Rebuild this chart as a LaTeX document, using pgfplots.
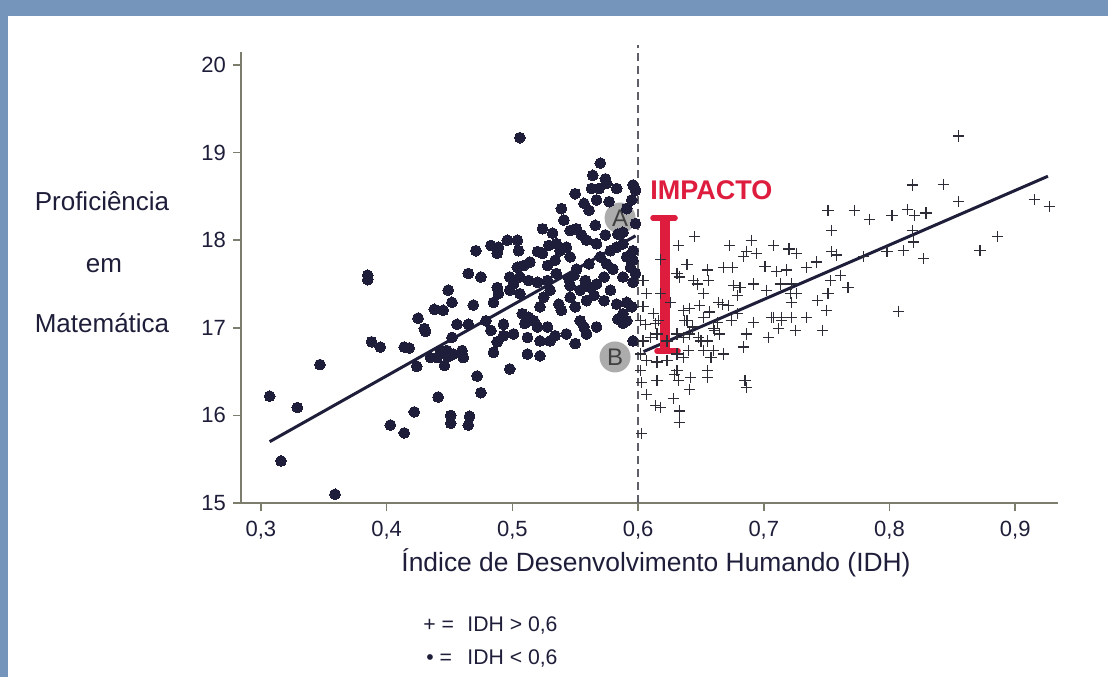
\documentclass[border=0pt]{standalone}
\usepackage{fontspec}
\setmainfont{Liberation Sans}
\usepackage{pgfplots}
\pgfplotsset{compat=1.18}
\definecolor{navy}{RGB}{30,30,58}
\definecolor{framec}{RGB}{117,150,186}
\definecolor{axisc}{RGB}{125,125,110}
\definecolor{impact}{RGB}{222,28,62}
\definecolor{crossc}{RGB}{45,45,55}
\definecolor{dashc}{RGB}{95,95,105}
\begin{document}
\begin{tikzpicture}
\useasboundingbox (0,0) rectangle (554pt,338.5pt);
\fill[white] (0,0) rectangle (554pt,338.5pt);
\fill[framec] (0,330.5pt) rectangle (554pt,338.5pt);
\fill[framec] (0,0) rectangle (4pt,338.5pt);
\begin{axis}[
  at={(120.5pt,87pt)}, anchor=south west,
  width=408.5pt, height=225.5pt, scale only axis,
  xmin=0.2842, xmax=0.934, ymin=15, ymax=20.148,
  axis x line*=bottom, axis y line*=left,
  axis line style={axisc, line width=0.8pt},
  tick style={axisc, line width=0.8pt},
  tick align=outside, major tick length=4pt,
  xtick={0.3,0.4,0.5,0.6,0.7,0.8,0.9},
  xticklabels={{0,3},{0,4},{0,5},{0,6},{0,7},{0,8},{0,9}},
  xticklabel style={yshift=-1.5pt},
  ytick={15,16,17,18,19,20},
  /pgf/number format/assume math mode=true,
  ticklabel style={font=\fontsize{11}{13}\selectfont, text=navy},
  xlabel={Índice de Desenvolvimento Humando (IDH)},
  xlabel style={font=\fontsize{13.2}{15}\selectfont, text=navy, at={(axis description cs:0.508,0)}, anchor=base, yshift=-34pt},
  clip=false,
]
% IDH < 0,6
\addplot[only marks, mark=*, mark size=2.7pt, mark options={fill=navy, draw=navy, line width=0pt}] table {
x y
0.307 16.22
0.316 15.48
0.329 16.09
0.347 16.58
0.359 15.10
0.385 17.60
0.385 17.55
0.388 16.84
0.395 16.78
0.403 15.89
0.414 15.80
0.422 16.04
0.424 16.56
0.425 17.11
0.430 16.99
0.431 16.96
0.438 17.21
0.441 16.21
0.445 17.20
0.449 17.43
0.452 17.29
0.451 16.00
0.451 15.91
0.446 16.57
0.443 16.74
0.435 16.66
0.440 16.66
0.452 16.89
0.453 16.70
0.456 17.04
0.460 16.74
0.461 16.66
0.465 17.04
0.465 17.62
0.466 15.99
0.465 15.89
0.475 16.26
0.472 16.45
0.414 16.78
0.418 16.77
0.449 16.67
0.448 16.74
0.506 19.17
0.570 18.88
0.564 18.74
0.574 18.70
0.575 18.65
0.563 18.59
0.569 18.59
0.583 18.59
0.596 18.63
0.598 18.57
0.550 18.53
0.567 18.46
0.577 18.44
0.557 18.42
0.561 18.34
0.539 18.36
0.595 18.46
0.591 18.36
0.541 18.23
0.524 18.13
0.532 18.08
0.546 18.11
0.551 18.13
0.555 18.06
0.566 18.17
0.574 18.06
0.559 18.00
0.535 17.96
0.543 17.92
0.529 17.94
0.538 17.88
0.524 17.85
0.520 17.87
0.496 18.00
0.504 18.00
0.505 17.88
0.483 17.94
0.489 17.92
0.471 17.88
0.488 17.85
0.514 17.75
0.509 17.71
0.504 17.69
0.506 17.58
0.498 17.58
0.501 17.50
0.488 17.46
0.489 17.39
0.475 17.58
0.469 17.26
0.479 17.08
0.485 17.29
0.520 17.52
0.528 17.54
0.535 17.62
0.545 17.56
0.549 17.60
0.551 17.67
0.546 17.81
0.561 17.73
0.558 17.54
0.567 17.50
0.562 17.46
0.554 17.43
0.546 17.35
0.565 17.37
0.570 17.81
0.578 17.88
0.583 17.92
0.588 17.96
0.575 17.73
0.573 17.58
0.580 17.67
0.591 17.81
0.596 17.88
0.594 17.69
0.588 17.58
0.596 17.52
0.583 17.27
0.591 17.29
0.588 17.16
0.584 17.10
0.588 17.05
0.596 16.85
0.554 17.08
0.557 17.01
0.567 17.01
0.559 16.93
0.543 16.93
0.534 16.91
0.530 16.85
0.522 16.85
0.512 16.89
0.510 17.05
0.508 17.16
0.513 17.12
0.517 17.08
0.520 17.01
0.501 16.93
0.493 16.91
0.488 16.84
0.485 16.72
0.512 16.70
0.522 16.68
0.498 16.53
0.537 17.27
0.539 17.20
0.522 17.24
0.525 17.35
0.506 17.39
0.498 17.43
0.546 17.48
0.550 16.82
0.513 17.54
0.530 17.43
0.598 18.19
0.596 17.77
0.598 17.62
0.595 17.24
0.591 17.08
0.534 17.77
0.528 17.71
0.573 17.31
0.578 17.43
0.559 17.31
0.550 17.24
0.584 18.07
0.588 18.09
0.567 17.96
0.493 17.04
0.483 16.97
0.528 17.01
};
% IDH > 0,6
\addplot[only marks, mark=+, mark size=2.8pt, mark options={draw=crossc, line width=0.6pt}] table {
x y
0.855 19.19
0.818 18.63
0.843 18.64
0.855 18.44
0.915 18.46
0.927 18.38
0.751 18.34
0.772 18.34
0.784 18.24
0.802 18.28
0.814 18.35
0.820 18.28
0.829 18.31
0.754 18.11
0.818 18.11
0.819 17.98
0.811 17.88
0.798 17.87
0.872 17.88
0.886 18.04
0.827 17.79
0.754 17.87
0.758 17.83
0.779 17.81
0.742 17.75
0.734 17.69
0.807 17.19
0.645 18.04
0.632 17.94
0.673 17.94
0.690 18.00
0.708 17.94
0.720 17.90
0.726 17.85
0.686 17.87
0.694 17.85
0.684 17.81
0.639 17.72
0.618 17.78
0.631 17.62
0.633 17.58
0.644 17.54
0.655 17.66
0.656 17.54
0.668 17.69
0.675 17.69
0.701 17.70
0.710 17.64
0.718 17.66
0.604 17.54
0.607 17.39
0.618 17.39
0.604 17.24
0.647 17.50
0.652 17.39
0.664 17.29
0.672 17.25
0.676 17.48
0.681 17.46
0.692 17.50
0.679 17.37
0.702 17.43
0.713 17.50
0.722 17.50
0.721 17.39
0.726 17.39
0.722 17.29
0.753 17.54
0.761 17.60
0.767 17.46
0.751 17.39
0.743 17.31
0.750 17.20
0.602 17.08
0.612 17.16
0.614 17.05
0.626 17.29
0.636 17.20
0.641 17.22
0.649 17.25
0.657 17.18
0.639 17.08
0.652 17.12
0.663 17.06
0.660 16.99
0.665 16.93
0.679 17.16
0.692 17.06
0.708 17.12
0.714 17.12
0.722 17.12
0.734 17.12
0.712 16.99
0.725 16.97
0.704 16.89
0.686 16.93
0.684 16.78
0.747 16.97
0.610 16.89
0.615 16.93
0.623 16.85
0.631 16.93
0.636 16.89
0.641 16.93
0.648 16.89
0.655 16.85
0.652 16.74
0.660 16.74
0.668 16.70
0.640 16.74
0.631 16.70
0.636 16.66
0.623 16.63
0.615 16.61
0.607 16.63
0.602 16.70
0.604 16.85
0.602 16.51
0.603 16.38
0.615 16.40
0.631 16.51
0.632 16.40
0.641 16.30
0.655 16.51
0.655 16.43
0.607 16.24
0.628 16.19
0.614 16.11
0.618 16.09
0.633 16.05
0.633 15.92
0.603 15.79
0.685 16.40
0.686 16.32
0.667 17.27
0.674 17.08
0.661 16.97
0.650 16.85
0.643 17.01
0.637 17.08
0.658 16.66
0.629 16.47
0.642 16.43
0.706 17.12
0.714 17.08
0.725 16.97
0.616 17.08
0.606 17.04
};
\addplot[navy, line width=1.5pt] coordinates {(0.307,15.70) (0.598,18.05)};
\addplot[navy, line width=1.5pt] coordinates {(0.6043,16.728) (0.926,18.73)};
\draw[dashc, dash pattern=on 4pt off 2.5pt, line width=0.7pt] (axis cs:0.6,15) -- (axis cs:0.6,20.23);
\node[circle, fill=black!38, fill opacity=0.85, text opacity=1, minimum size=15.5pt, inner sep=0pt, font=\fontsize{12}{12}\selectfont, text=black!75] at (axis cs:0.5857,18.253) {A};
\node[circle, fill=black!38, fill opacity=0.85, text opacity=1, minimum size=15.5pt, inner sep=0pt, font=\fontsize{12}{12}\selectfont, text=black!75] at (axis cs:0.5817,16.667) {B};
\draw[impact, line width=4.6pt] (axis cs:0.6215,18.24) -- (axis cs:0.6215,16.745);
\draw[impact, line width=2.8pt, line cap=round] (axis cs:0.6119,18.253) -- (axis cs:0.6294,18.253);
\draw[impact, line width=2.8pt, line cap=round] (axis cs:0.6151,16.735) -- (axis cs:0.6318,16.735);
\node[anchor=base west, inner sep=0pt, text=impact, font=\bfseries\fontsize{13.5}{13.5}\selectfont] at (axis cs:0.6095,18.459) {IMPACTO};
\end{axis}
\node[anchor=base, inner sep=0pt, text=navy, font=\fontsize{13}{13}\selectfont] at (51pt,233.5pt) {Proficiência};
\node[anchor=base, inner sep=0pt, text=navy, font=\fontsize{13}{13}\selectfont] at (52pt,202.5pt) {em};
\node[anchor=base, inner sep=0pt, text=navy, font=\fontsize{13}{13}\selectfont] at (51pt,172.5pt) {Matemática};
\node[anchor=base west, inner sep=0pt, text=navy, font=\fontsize{10.6}{11}\selectfont] at (211.5pt,23pt) {+ =};
\node[anchor=base west, inner sep=0pt, text=navy, font=\fontsize{10.6}{11}\selectfont] at (233.5pt,23pt) {IDH > 0,6};
\node[anchor=base west, inner sep=0pt, text=navy, font=\fontsize{10.6}{11}\selectfont] at (213pt,6.5pt) {• =};
\node[anchor=base west, inner sep=0pt, text=navy, font=\fontsize{10.6}{11}\selectfont] at (233.5pt,6.5pt) {IDH < 0,6};
\end{tikzpicture}
\end{document}
